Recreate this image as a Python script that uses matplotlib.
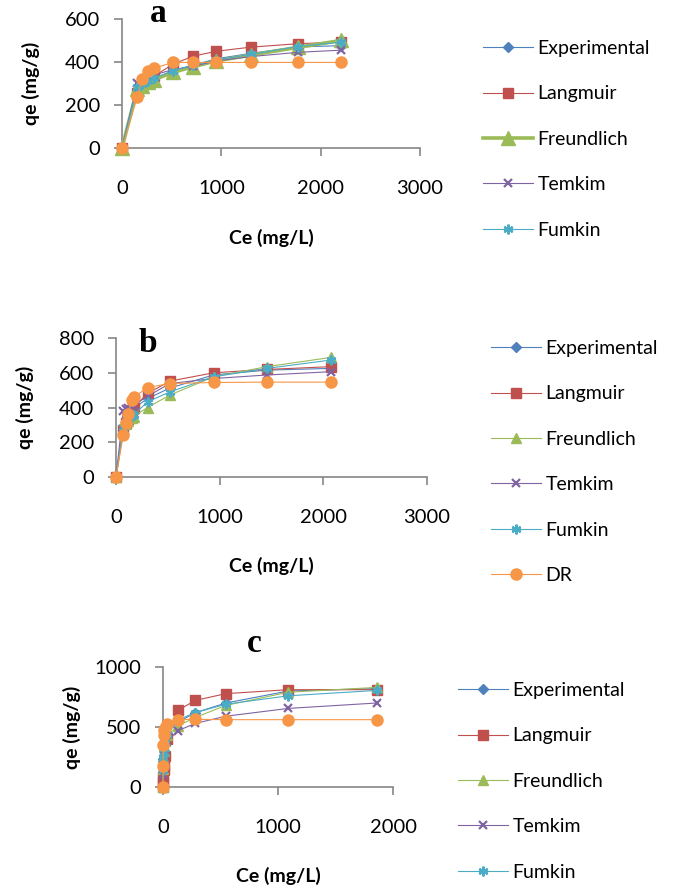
import matplotlib.pyplot as plt
from matplotlib.lines import Line2D

# ---- data ----
names = ["Experimental", "Langmuir", "Freundlich", "Temkim", "Fumkin", "DR"]

ce_a = [0, 153, 204, 258, 324, 515, 715, 950, 1294, 1768, 2204]
qe_a = {
    "Experimental": [0, 268, 290, 305, 322, 360, 385, 415, 440, 470, 476],
    "Langmuir": [0, 255, 290, 315, 335, 390, 427, 450, 469, 485, 493],
    "Freundlich": [0, 275, 290, 305, 318, 352, 378, 405, 432, 468, 500],
    "Temkim": [0, 300, 315, 330, 340, 365, 380, 405, 425, 445, 455],
    "Fumkin": [0, 285, 298, 312, 325, 360, 385, 410, 435, 472, 492],
    "DR": [0, 235, 321, 356, 372, 398, 398, 398, 398, 398, 398],
}

ce_b = [0, 70, 95, 112, 155, 170, 305, 520, 945, 1455, 2070]
qe_b = {
    "Experimental": [0, 290, 330, 360, 385, 395, 452, 512, 588, 615, 625],
    "Langmuir": [0, 270, 310, 335, 385, 400, 481, 552, 600, 619, 635],
    "Freundlich": [0, 275, 305, 325, 340, 348, 400, 472, 577, 635, 688],
    "Temkim": [0, 380, 390, 395, 405, 413, 465, 538, 567, 587, 606],
    "Fumkin": [0, 285, 315, 330, 350, 358, 433, 490, 577, 625, 673],
    "DR": [0, 240, 308, 360, 446, 458, 515, 538, 544, 546, 546],
}

ce_c = [0, 1, 3, 5, 8, 15, 35, 131, 282, 547, 1090, 1860]
qe_c = {
    "Experimental": [0, 120, 230, 300, 360, 400, 450, 540, 620, 700, 800, 820],
    "Langmuir": [0, 42, 83, 139, 180, 260, 400, 639, 722, 778, 811, 811],
    "Freundlich": [0, 150, 250, 300, 340, 380, 430, 510, 580, 680, 790, 830],
    "Temkim": [0, 100, 180, 230, 280, 320, 380, 470, 530, 590, 655, 700],
    "Fumkin": [0, 140, 240, 290, 330, 370, 440, 560, 620, 690, 760, 805],
    "DR": [0, 172, 353, 431, 472, 494, 528, 561, 564, 561, 561, 561],
}

colors = {"Experimental": "#4F81BD", "Langmuir": "#C0504D", "Freundlich": "#9BBB59",
          "Temkim": "#8064A2", "Fumkin": "#4BACC6", "DR": "#F79646"}
markers = {"Experimental": "D", "Langmuir": "s", "Freundlich": "^",
           "Temkim": "x", "Fumkin": (6, 2, 0), "DR": "o"}
msizes = {"Experimental": 5, "Langmuir": 6.5, "Freundlich": 7, "Temkim": 6, "Fumkin": 7, "DR": 8}

plt.rcParams['font.family'] = ['Lato', 'DejaVu Sans']
W, H = 679, 892
fig = plt.figure(figsize=(W / 100, H / 100), dpi=100)


def box(l, r, t, b):
    # pixel box -> figure fraction
    return [l / W, 1 - b / H, (r - l) / W, (b - t) / H]


def style(n, thick_freund):
    lw, ms = 0.8, msizes[n]
    if thick_freund and n == "Freundlich":
        lw, ms = 2.6, 10
    mew = 1.6 if n in ("Temkim", "Fumkin") else 1
    return dict(color=colors[n], lw=lw, marker=markers[n], ms=ms, mew=mew,
                mec=colors[n], mfc=colors[n])


def panel(rect, ce, qe, xmax, ymax, ystep, xstep, thick_freund, letter, lpos,
          xlab_y, ylab_x, leg_names, leg_anchor):
    ax = fig.add_axes(box(*rect))
    for n in names:
        ax.plot(ce, qe[n], clip_on=False, zorder=3, **style(n, thick_freund))
    ax.set_xlim(0, xmax)
    ax.set_ylim(0, ymax)
    ax.set_xticks(range(0, xmax + 1, xstep))
    ax.set_yticks(range(0, ymax + 1, ystep))
    for s in ("top", "right"):
        ax.spines[s].set_visible(False)
    for s in ("left", "bottom"):
        ax.spines[s].set_color("#868686")
        ax.spines[s].set_linewidth(1.2)
    ax.tick_params(colors="#868686", labelcolor="black", labelsize=14.5,
                   length=6, width=1.2)
    ax.tick_params(axis="x", pad=17)
    ax.tick_params(axis="y", pad=10)
    fig.text((rect[0] + rect[1]) / 2 / W, 1 - xlab_y / H, "Ce (mg/L)",
             ha="center", va="center", fontsize=14, fontweight="bold")
    fig.text(ylab_x / W, 1 - (rect[2] + rect[3]) / 2 / H, "qe (mg/g)", rotation=90,
             ha="center", va="center", fontsize=14, fontweight="bold")
    fig.text(lpos[0] / W, 1 - lpos[1] / H, letter, ha="center", va="center",
             fontsize=24, fontweight="bold", family="Liberation Serif")
    handles = [Line2D([], [], **style(n, thick_freund)) for n in leg_names]
    fig.legend(handles, leg_names, loc="upper left",
               bbox_to_anchor=(leg_anchor[0] / W, 1 - leg_anchor[1] / H),
               frameon=False, fontsize=14, handlelength=2.55,
               handletextpad=0.25, labelspacing=1.46, borderpad=0, borderaxespad=0)
    return ax


panel((122, 420, 19, 148), ce_a, qe_a, 3000, 600, 200, 1000, True, "a", (158, 14),
      238, 31, names[:5], (483, 40))
panel((116, 427, 338, 477), ce_b, qe_b, 3000, 800, 200, 1000, False, "b", (148, 343),
      566, 25, names, (491, 340))
panel((163, 393, 667, 787), ce_c, qe_c, 2000, 1000, 500, 1000, False, "c", (254, 643),
      876, 72, names[:5], (458, 682))

fig.savefig("out.png", dpi=100)
